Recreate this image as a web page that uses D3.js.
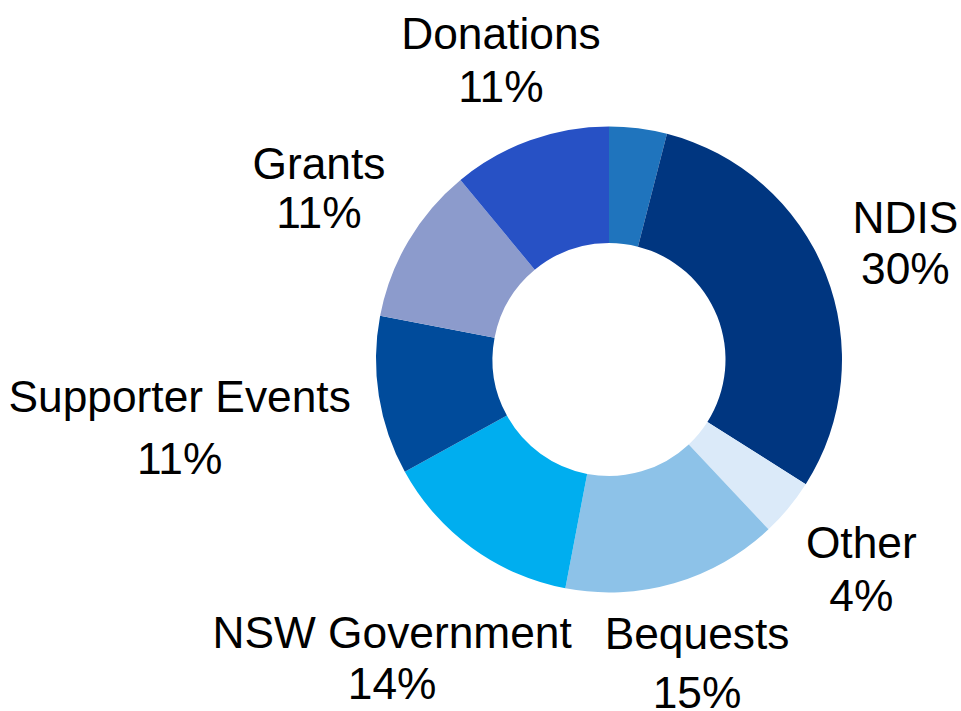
<!DOCTYPE html>
<html>
<head>
<meta charset="utf-8">
<script src="https://cdn.jsdelivr.net/npm/d3@7"></script>
<style>
  html, body { margin: 0; padding: 0; background: #ffffff; }
  svg { display: block; }
</style>
</head>
<body>
<div id="chart"></div>
<script>
// ---- data ----
const categories = ["", "NDIS", "Other", "Bequests", "NSW Government", "Supporter Events", "Grants", "Donations"];
const values = [4, 30, 4, 15, 14, 11, 11, 11];
const percentLabels = ["", "30%", "4%", "15%", "14%", "11%", "11%", "11%"];
const colors = ["#1f74bd", "#003680", "#dbeaf9", "#8dc2e8", "#00aeef", "#004b9b", "#8c9bcc", "#2751c5"];

// ---- layout ----
const W = 961, H = 711;
const cx = 609, cy = 359.5;
const outerR = 233, innerR = 116.5;
const labelDist = [0, 318.7, 327.4, 315.5, 369, 434.7, 337, 319];
const lineGap = [0, 51, 53, 59, 51, 62, 49, 53];
const fontSize = 44.3;

const svg = d3.select("#chart").append("svg")
  .attr("width", W).attr("height", H);

const g = svg.append("g").attr("transform", `translate(${cx},${cy})`);

const pie = d3.pie().sort(null).value(d => d.value);
const arc = d3.arc().innerRadius(innerR).outerRadius(outerR);

const data = categories.map((c, i) => ({ name: c, value: values[i], pct: percentLabels[i], color: colors[i], i }));
const arcs = pie(data);

g.selectAll("path.slice").data(arcs).enter().append("path")
  .attr("class", "slice")
  .attr("d", arc)
  .attr("fill", d => d.data.color);

const lbl = g.selectAll("g.label").data(arcs.filter(d => d.data.name !== "")).enter().append("g")
  .attr("class", "label")
  .attr("transform", d => {
    const a = (d.startAngle + d.endAngle) / 2;
    const r = labelDist[d.data.i];
    return `translate(${Math.sin(a) * r},${-Math.cos(a) * r})`;
  });

lbl.each(function(d) {
  const gap = lineGap[d.data.i];
  const t = d3.select(this);
  const capHalf = fontSize * 0.716 / 2;
  t.append("text")
    .attr("text-anchor", "middle")
    .attr("x", 0)
    .attr("y", -gap / 2 + capHalf)
    .attr("font-family", "'Liberation Sans', Arial, sans-serif")
    .attr("font-size", fontSize)
    .attr("fill", "#000")
    .text(d.data.name);
  t.append("text")
    .attr("text-anchor", "middle")
    .attr("x", 0)
    .attr("y", gap / 2 + capHalf)
    .attr("font-family", "'Liberation Sans', Arial, sans-serif")
    .attr("font-size", fontSize)
    .attr("fill", "#000")
    .text(d.data.pct);
});
</script>
</body>
</html>
